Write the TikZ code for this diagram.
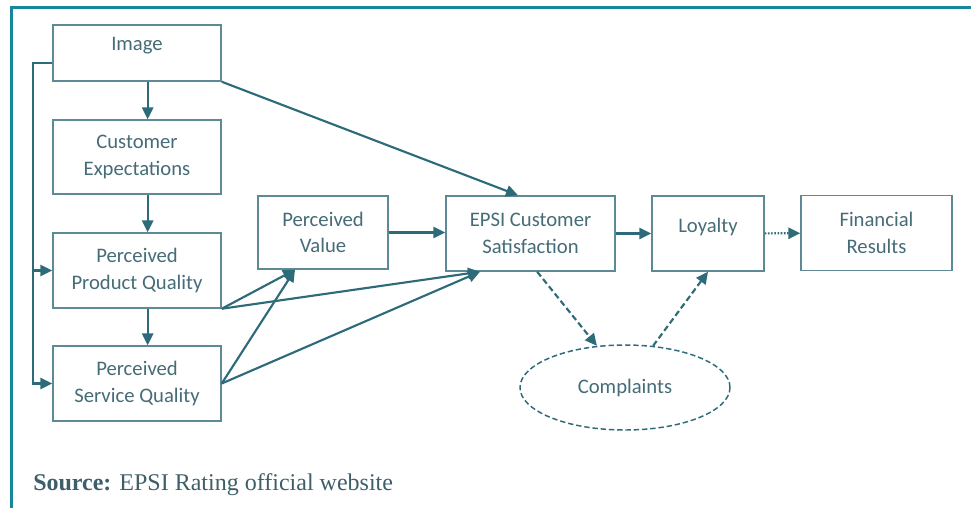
\documentclass[tikz,border=0pt]{standalone}
\usepackage{fontspec}
\setmainfont{Liberation Serif}
\newfontfamily\boxfont{Carlito}
\usepackage{tikz}
\usetikzlibrary{arrows.meta,shapes.geometric}
\definecolor{satFrame}{HTML}{17879A}
\definecolor{satInk}{HTML}{456C77}
\definecolor{satLine}{HTML}{5E8A95}
\definecolor{satArrow}{HTML}{2E6B7A}
\definecolor{satSource}{HTML}{3E5E69}
\tikzset{
  sat diagram/.style={x=7.5pt, y=-7.5pt, text=satInk},
  sat box/.style={draw=satLine, fill=white, line width=1.1pt,
    align=center, inner sep=3pt, font=\boxfont\fontsize{15.5}{20}\selectfont},
  sat single/.style={text depth=13pt},
  sat oval/.style={sat box, ellipse, draw=satArrow, dash pattern=on 4pt off 2.2pt},
  sat arrow/.style={-{Triangle[length=9pt,width=8.5pt]}, draw=satArrow, line width=1.6pt},
  sat dashed/.style={sat arrow, dash pattern=on 4.5pt off 2.5pt},
  sat dotted/.style={sat arrow, dash pattern=on 1.2pt off 1.2pt},
  sat frame/.style={draw=satFrame, line width=2.3pt},
  sat source/.style={font=\fontsize{18}{21}\selectfont, text=satSource,
    anchor=base west, inner sep=0pt}
}

\begin{document}
\begin{tikzpicture}[sat diagram]
\useasboundingbox (0,0) rectangle (97.1,50.8);
\draw[sat frame] (1.15,50.8) -- (1.15,0.75) -- (97.1,0.75);
% drivers on the left
\node[sat box, sat single, minimum width=126pt, minimum height=42pt] (img) at (13.7,5.3) {Image};
\node[sat box, minimum width=126pt, minimum height=55.5pt] (expect) at (13.7,15.7) {Customer\\Expectations};
\node[sat box, minimum width=126pt, minimum height=56.25pt] (product) at (13.7,27.05) {Perceived\\Product Quality};
\node[sat box, minimum width=126pt, minimum height=56.25pt] (service) at (13.7,38.35) {Perceived\\Service Quality};
\node[sat box, minimum width=97.5pt, minimum height=54.75pt] (value) at (32.3,23.25) {Perceived\\Value};
% satisfaction and outcomes
\node[sat box, minimum width=126.75pt, minimum height=56.25pt] (epsi) at (53.05,23.35) {EPSI Customer\\Satisfaction};
\node[sat box, sat single, minimum width=84pt, minimum height=56.25pt] (loyal) at (70.8,23.35) {Loyalty};
\node[sat box, minimum width=113.25pt, minimum height=56.25pt] (finance) at (87.65,23.3) {Financial\\Results};
\node[sat oval, minimum width=157.5pt, minimum height=63.75pt] (compl) at (62.5,38.75) {Complaints};

\draw[sat arrow] ([xshift=8pt]img.south) -- ([xshift=8pt]expect.north);
\draw[sat arrow] ([xshift=8pt]expect.south) -- ([xshift=8pt]product.north);
\draw[sat arrow] ([xshift=8pt]product.south) -- ([xshift=8pt]service.north);
\draw[sat arrow] ([yshift=-7.5pt]img.west) -- ++(-1.95,0) coordinate (loop) |- (service.west);
\draw[sat arrow] (loop |- product.west) -- (product.west);
\draw[sat arrow] (img.south east) -- ([xshift=-9.4pt]epsi.north);
\draw[sat arrow] (product.south east) -- ([xshift=-21pt]value.south);
\draw[sat arrow] (product.south east) -- ([xshift=-37.9pt]epsi.south);
\draw[sat arrow] (service.east) -- ([xshift=-21pt]value.south);
\draw[sat arrow] (service.east) -- ([xshift=-37.9pt]epsi.south);
\draw[sat arrow] (value.east) -- (value.east -| epsi.west);
\draw[sat arrow] (epsi) -- (loyal);
\draw[sat dotted] (loyal) -- (finance);
\draw[sat dashed] ([xshift=5pt]epsi.south) -- (compl.124);
\draw[sat dashed] (compl.56) -- (loyal.south);

\node[sat source] (src) at (3.3,49.0) {\textbf{Source:} EPSI Rating official website};
\end{tikzpicture}
\end{document}
